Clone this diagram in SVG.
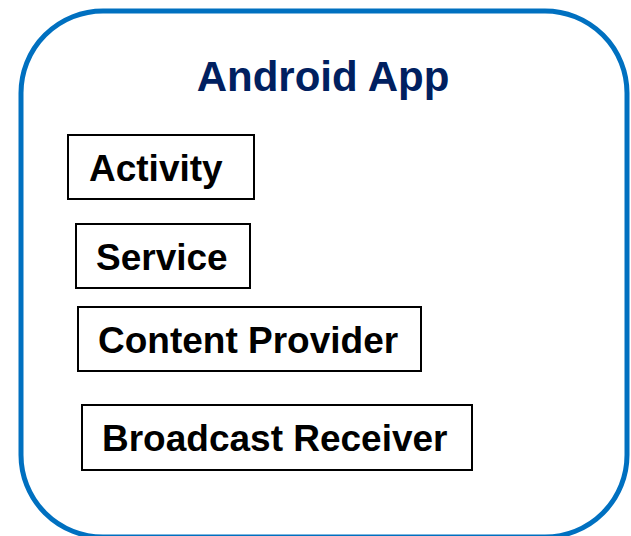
<svg xmlns="http://www.w3.org/2000/svg" width="631" height="536" viewBox="0 0 631 536">
<style>
.box{fill:#fff;stroke:#000;stroke-width:2}
.lbl{font-family:"Liberation Sans",Arial,sans-serif;font-weight:bold;font-size:37px;fill:#000}
.title{font-family:"Liberation Sans",Arial,sans-serif;font-weight:bold;font-size:42px;fill:#002060;text-anchor:middle}
</style>
<rect width="631" height="536" fill="#fff"/>
<g id="app">
<rect x="21" y="11" width="606" height="526" rx="82" ry="82" fill="#fff" stroke="#0070C0" stroke-width="5"/>
<text class="title" x="323" y="91">Android App</text>
</g>
<g id="activity">
<rect class="box" x="68" y="135" width="186" height="64"/>
<text class="lbl" x="89" y="181">Activity</text>
</g>
<g id="service">
<rect class="box" x="76" y="224" width="174" height="64"/>
<text class="lbl" x="96" y="270">Service</text>
</g>
<g id="content-provider">
<rect class="box" x="78" y="307" width="343" height="64"/>
<text class="lbl" x="98" y="353">Content Provider</text>
</g>
<g id="broadcast-receiver">
<rect class="box" x="82" y="405" width="390" height="65"/>
<text class="lbl" x="102" y="451">Broadcast Receiver</text>
</g>
<g id="connectors"/>
</svg>
